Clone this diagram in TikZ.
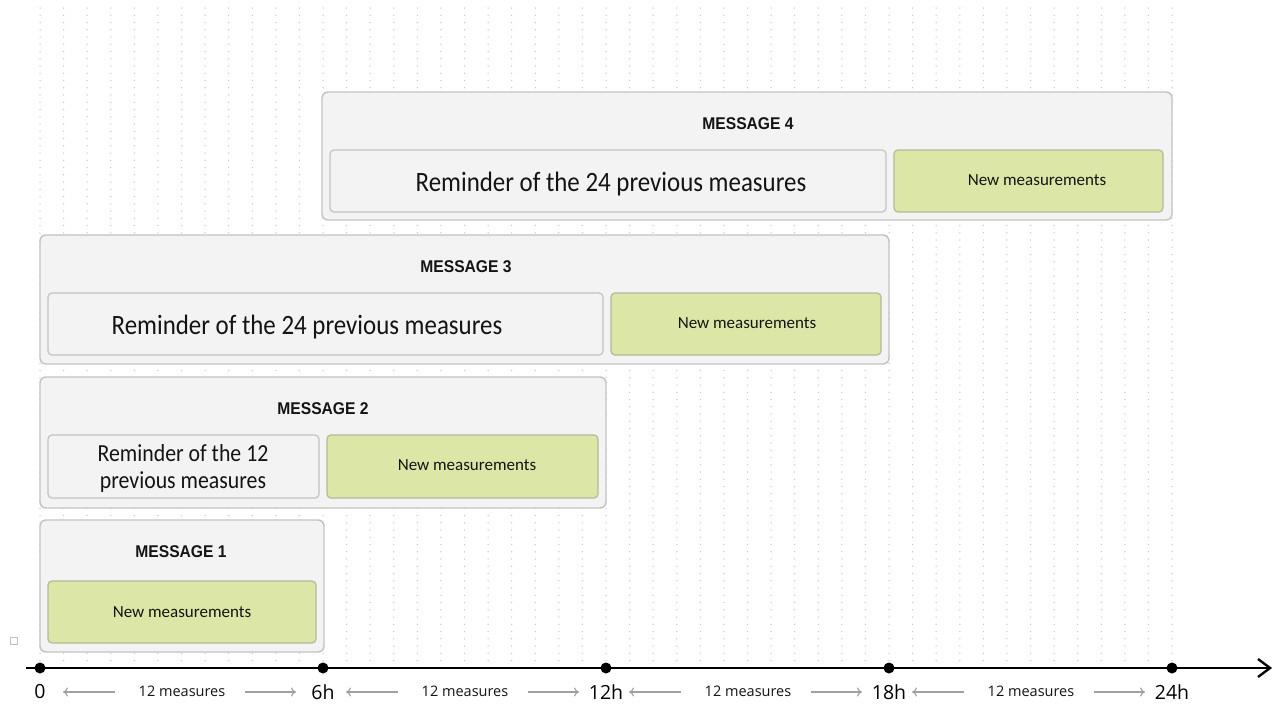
\documentclass[tikz,border=0pt]{standalone}
\usepackage{fontspec}
\usetikzlibrary{arrows.meta}
\newfontfamily\calfont{Carlito}
\newfontfamily\calnarrow[FakeStretch=0.89]{Carlito}
\newfontfamily\osfont{Open Sans}
\newfontfamily\lsfont[FakeStretch=0.92]{Liberation Sans}
\definecolor{dotc}{HTML}{C8C8C8}
\definecolor{boxfill}{HTML}{F3F3F3}
\definecolor{boxline}{HTML}{C2C2C2}
\definecolor{greenfill}{HTML}{DCE6A6}
\definecolor{greenline}{HTML}{B4B99A}
\definecolor{arrowgray}{HTML}{A0A0A0}
\definecolor{txt}{HTML}{141414}
\tikzset{
  outerbox/.style={draw=boxline, fill=boxfill, line width=1.4pt, rounded corners=6pt, inner sep=0pt},
  remindbox/.style={draw=boxline, fill=boxfill, line width=1.2pt, rounded corners=4pt, inner sep=0pt},
  newbox/.style={draw=greenline, fill=greenfill, line width=1.2pt, rounded corners=4pt, inner sep=0pt},
  titletext/.style={font=\lsfont\bfseries\fontsize{17}{19}\selectfont, text=txt, inner sep=0pt},
  newtext/.style={font=\calfont\fontsize{17}{20}\selectfont, text=txt, inner sep=0pt},
  remtext/.style={font=\calnarrow\fontsize{28}{30}\selectfont, text=txt, inner sep=0pt},
  remtextsmall/.style={font=\calnarrow\fontsize{24.5}{27}\selectfont, text=txt, inner sep=0pt, align=center},
  hourlabel/.style={font=\osfont\fontsize{19.5}{21}\selectfont, text=black, inner sep=0pt},
  meastext/.style={font=\osfont\fontsize{14.5}{16}\selectfont, text=txt, inner sep=0pt},
  graylink/.style={draw=arrowgray, line width=1.1pt, -{To[length=5pt,width=9pt]}},
  hourdot/.style={circle, fill=black, minimum size=11pt, inner sep=0pt},
}
\begin{document}
\begin{tikzpicture}[x=1pt, y=-1pt]
\useasboundingbox (0,0) rectangle (1276,704);
% dot grid
\foreach \i in {0,...,48} {
  \foreach \j in {0,...,90} {
    \fill[dotc] ({40+23.5833*\i},{8+7.25*\j}) circle (0.75);
  }
}
% small square
\node[draw=boxline, fill=white, line width=0.8pt, minimum size=7pt, inner sep=0pt] (sq) at (14,641) {};

% MESSAGE 1
\node[outerbox, minimum width=284pt, minimum height=132pt] (m1) at (182,586) {};
\node[titletext] (m1t) at (181,551.5) {MESSAGE 1};
\node[newbox, minimum width=268pt, minimum height=62pt] (m1n) at (182,612) {};
\node[newtext] (m1nt) at (182,612) {New measurements};

% MESSAGE 2
\node[outerbox, minimum width=566pt, minimum height=131pt] (m2) at (323,442.5) {};
\node[titletext] (m2t) at (323,409) {MESSAGE 2};
\node[remindbox, minimum width=271pt, minimum height=63pt] (m2r) at (183.5,466.5) {};
\node[remtextsmall] (m2rt) at (183,468) {Reminder of the 12\\previous measures};
\node[newbox, minimum width=271pt, minimum height=63pt] (m2n) at (462.5,466.5) {};
\node[newtext] (m2nt) at (467,465) {New measurements};

% MESSAGE 3
\node[outerbox, minimum width=849pt, minimum height=129pt] (m3) at (464.5,299.5) {};
\node[titletext] (m3t) at (466,267) {MESSAGE 3};
\node[remindbox, minimum width=555pt, minimum height=62pt] (m3r) at (325.5,324) {};
\node[remtext] (m3rt) at (307,327) {Reminder of the 24 previous measures};
\node[newbox, minimum width=270pt, minimum height=62pt] (m3n) at (746,324) {};
\node[newtext] (m3nt) at (747,323) {New measurements};

% MESSAGE 4
\node[outerbox, minimum width=850pt, minimum height=128pt] (m4) at (747,156) {};
\node[titletext] (m4t) at (748,124) {MESSAGE 4};
\node[remindbox, minimum width=556pt, minimum height=62pt] (m4r) at (608,181) {};
\node[remtext] (m4rt) at (611,184) {Reminder of the 24 previous measures};
\node[newbox, minimum width=269pt, minimum height=62pt] (m4n) at (1028.5,181) {};
\node[newtext] (m4nt) at (1037,180) {New measurements};

% time axis
\coordinate (axstart) at (26,668);
\coordinate (axend) at (1272,668);
\draw[line width=2.4pt, -{Straight Barb[length=12pt,width=18pt,line width=2.4pt]}] (axstart) -- (axend);
\foreach \h/\lab [count=\k from 0] in {0/0,6/6h,12/12h,18/18h,24/24h} {
  \node[hourdot] (d\k) at ({40+47.1667*\h},668) {};
  \node[hourlabel] (l\k) at ({40+47.1667*\h},692) {\lab};
}
% measure spans
\foreach \k in {0,1,2,3} {
  \pgfmathsetmacro{\s}{40+283*\k}
  \coordinate (la\k) at ({\s+75},692);
  \coordinate (lb\k) at ({\s+23},692);
  \coordinate (ra\k) at ({\s+205},692);
  \coordinate (rb\k) at ({\s+256},692);
  \draw[graylink] (la\k) -- (lb\k);
  \draw[graylink] (ra\k) -- (rb\k);
  \node[meastext] (mt\k) at ({\s+142},691) {12 measures};
}
\end{tikzpicture}
\end{document}
